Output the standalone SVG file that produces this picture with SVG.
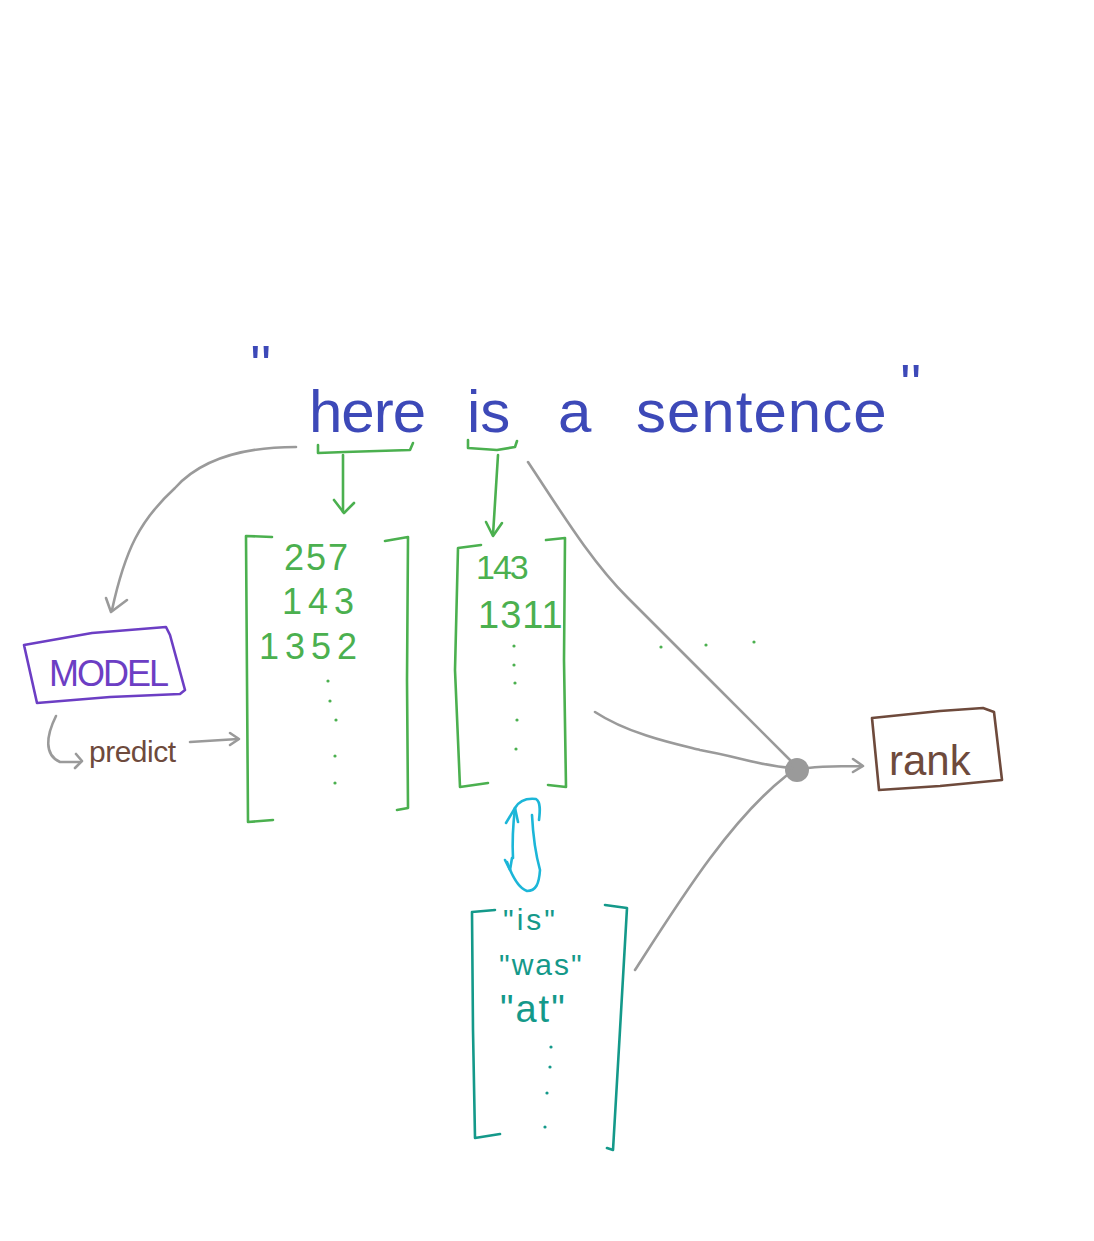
<svg xmlns="http://www.w3.org/2000/svg" width="1094" height="1241" viewBox="0 0 1094 1241">
<defs>
<style>
.hand{fill:none;stroke-linecap:round;stroke-linejoin:round;stroke-width:2.6}
.gray{stroke:#9a9a9a}
.green{stroke:#4bb04f}
.teal{stroke:#14998a}
.purple{stroke:#6c3ec4}
.brown{stroke:#6e4a3c}
.cyan{stroke:#1cb6d8}
text{font-family:"Liberation Sans","DejaVu Sans",sans-serif}
.blue-t{fill:#3d49b8}
.green-t{fill:#4bb04f}
.teal-t{fill:#14998a}
.brown-t{fill:#6e4a3c}
.purple-t{fill:#6c3ec4}
.dot{fill:#4bb04f}
.tdot{fill:#14998a}
</style>
</defs>
<rect width="1094" height="1241" fill="#ffffff"/>

<g id="sentence">
<text class="blue-t" x="250" y="384" font-size="56">''</text>
<text class="blue-t" x="309" y="432" font-size="60" letter-spacing="-1">here</text>
<text class="blue-t" x="467" y="432" font-size="60">is</text>
<text class="blue-t" x="558" y="432" font-size="60">a</text>
<text class="blue-t" x="636" y="432" font-size="60" letter-spacing="1">sentence</text>
<text class="blue-t" x="900" y="403" font-size="56">''</text>
</g>

<g id="matrix1">
<path class="hand green" d="M272,537 L246,536 L247,680 L248,822 L273,820"/>
<path class="hand green" d="M385,541 L408,537 L407,680 L408,808 L397,810"/>
<text class="green-t" x="284" y="570" font-size="36" letter-spacing="2">257</text>
<text class="green-t" x="282" y="614" font-size="36" letter-spacing="6">143</text>
<text class="green-t" x="259" y="659" font-size="36" letter-spacing="6">1352</text>
<circle class="dot" cx="328" cy="681" r="1.6"/>
<circle class="dot" cx="330" cy="701" r="1.6"/>
<circle class="dot" cx="336" cy="720" r="1.6"/>
<circle class="dot" cx="335" cy="756" r="1.6"/>
<circle class="dot" cx="335" cy="783" r="1.6"/>
</g>

<g id="matrix2">
<path class="hand green" d="M481,545 L458,548 L455,670 L460,787 L488,783"/>
<path class="hand green" d="M546,540 L565,538 L564,660 L566,787 L548,785"/>
<text class="green-t" x="476" y="579" font-size="34" letter-spacing="-2">143</text>
<text class="green-t" x="478" y="628" font-size="38" letter-spacing="1">1311</text>
<circle class="dot" cx="514" cy="646" r="1.6"/>
<circle class="dot" cx="514" cy="665" r="1.6"/>
<circle class="dot" cx="515" cy="683" r="1.6"/>
<circle class="dot" cx="517" cy="720" r="1.6"/>
<circle class="dot" cx="516" cy="749" r="1.6"/>
<circle class="dot" cx="661" cy="647" r="1.6"/>
<circle class="dot" cx="706" cy="645" r="1.6"/>
<circle class="dot" cx="754" cy="642" r="1.6"/>
</g>

<g id="matrix3">
<path class="hand teal" d="M495,910 L472,912 L473,1030 L475,1138 L500,1134"/>
<path class="hand teal" d="M605,905 L627,908 L620,1030 L613,1150 L607,1148"/>
<text class="teal-t" x="503" y="930" font-size="30" letter-spacing="3">"is"</text>
<text class="teal-t" x="499" y="975" font-size="30" letter-spacing="2">"was"</text>
<text class="teal-t" x="500" y="1022" font-size="38" letter-spacing="2">"at"</text>
<circle class="tdot" cx="551" cy="1047" r="1.6"/>
<circle class="tdot" cx="550" cy="1067" r="1.6"/>
<circle class="tdot" cx="547" cy="1093" r="1.6"/>
<circle class="tdot" cx="545" cy="1127" r="1.6"/>
</g>

<g id="model">
<path class="hand purple" d="M24,645 L92,633 L166,627 L170,635 L185,690 L180,694 L110,697 L37,703 Z"/>
<text class="purple-t" x="49" y="686" font-size="36" letter-spacing="-2">MODEL</text>
</g>

<g id="predict">
<text class="brown-t" x="89" y="762" font-size="30" letter-spacing="-0.5">predict</text>
</g>

<g id="rank">
<path class="hand brown" d="M872,718 L940,711 L983,708 L994,712 L1002,780 L940,786 L879,790 Z"/>
<text class="brown-t" x="889" y="775" font-size="42">rank</text>
</g>

<g id="join">
<circle cx="797" cy="770" r="12" fill="#9a9a9a"/>
</g>

<g id="connectors">
<!-- underline braces -->
<path class="hand green" d="M318,445 L318,453 L345,452 L410,450 L413,443"/>
<path class="hand green" d="M468,440 L468,448 L497,450 L515,447 L517,441"/>
<!-- down arrows -->
<path class="hand green" d="M343,455 L343,512"/>
<path class="hand green" d="M334,500 L344,513 L354,503"/>
<path class="hand green" d="M498,455 L493,535"/>
<path class="hand green" d="M486,522 L493,536 L502,523"/>
<!-- to model -->
<path class="hand gray" d="M296,447 C240,447 200,460 175,488 C140,520 125,550 112,610"/>
<path class="hand gray" d="M106,598 L111,612 L127,600"/>
<!-- model to predict -->
<path class="hand gray" d="M56,716 C46,736 44,755 60,762 L80,762"/>
<path class="hand gray" d="M76,754 L82,761 L75,768"/>
<!-- predict to matrix -->
<path class="hand gray" d="M190,742 L238,739"/>
<path class="hand gray" d="M230,733 L239,739 L230,745"/>
<!-- lines to join -->
<path class="hand gray" d="M528,462 C560,510 590,560 628,598 C680,650 740,710 792,762"/>
<path class="hand gray" d="M595,712 C630,735 680,745 700,750 C740,757 760,766 792,768"/>
<path class="hand gray" d="M635,970 C680,900 730,820 786,776"/>
<!-- to rank -->
<path class="hand gray" d="M808,768 C830,765 850,767 862,766"/>
<path class="hand gray" d="M853,759 L863,766 L853,772"/>
<!-- cyan double arrow -->
<path class="hand cyan" d="M513,858 C512,840 513,825 515,808 C519,801 527,798 536,799 C541,802 540,812 539,820"/>
<path class="hand cyan" d="M506,823 L515,808 L518,822"/>
<path class="hand cyan" d="M532,815 C533,835 535,852 540,870 C539,884 536,891 527,891 C518,888 512,876 507,862"/>
<path class="hand cyan" d="M505,860 L510,870 L512,858"/>
</g>
</svg>
